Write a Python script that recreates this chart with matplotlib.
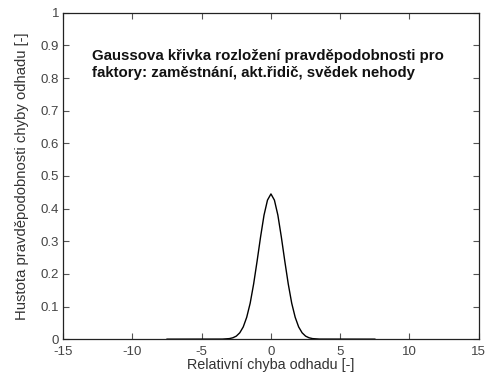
import matplotlib
matplotlib.use("Agg")
import matplotlib.pyplot as plt

plt.rcParams['font.family'] = ['Liberation Sans', 'DejaVu Sans']

# hustota chyby odhadu (symetricka krivka kolem nuly)
x_vals = [-7.5, -3.5, -3.0, -2.75, -2.5, -2.25, -2.0, -1.75, -1.5, -1.25, -1.0, -0.75, -0.5, -0.25, 0.0,
          0.25, 0.5, 0.75, 1.0, 1.25, 1.5, 1.75, 2.0, 2.25, 2.5, 2.75, 3.0, 3.5, 7.5]
y_vals = [0.0, 0.0002, 0.0017, 0.0042, 0.0093, 0.0195, 0.0375, 0.067, 0.110, 0.169, 0.239, 0.313, 0.380, 0.426, 0.445,
          0.426, 0.380, 0.313, 0.239, 0.169, 0.110, 0.067, 0.0375, 0.0195, 0.0093, 0.0042, 0.0017, 0.0002, 0.0]

x_ticks = [-15, -10, -5, 0, 5, 10, 15]
y_ticks = [0, 0.1, 0.2, 0.3, 0.4, 0.5, 0.6, 0.7, 0.8, 0.9, 1]
y_tick_labels = ['0', '0.1', '0.2', '0.3', '0.4', '0.5', '0.6', '0.7', '0.8', '0.9', '1']

popis = "Gaussova křivka rozložení pravděpodobnosti pro\nfaktory: zaměstnání, akt.řidič, svědek nehody"

fig = plt.figure(figsize=(4.86, 3.76), dpi=100)
ax = fig.add_axes([0.130, 0.098, 0.855, 0.868])

ax.plot(x_vals, y_vals, color='black', linewidth=1.0)

ax.set_xlim(-15, 15)
ax.set_ylim(0, 1)
ax.set_xticks(x_ticks)
ax.set_yticks(y_ticks)
ax.set_xticklabels([str(t) for t in x_ticks])
ax.set_yticklabels(y_tick_labels)
ax.tick_params(direction='in', top=True, right=True, length=4, labelsize=9.5,
               color='#555555', labelcolor='#444444', pad=3)
ax.tick_params(axis='x', pad=5)
for s in ax.spines.values():
    s.set_color('#222222')
    s.set_linewidth(0.9)

ax.set_xlabel('Relativní chyba odhadu [-]', fontsize=10.4, color='#333333', labelpad=0)
ax.set_ylabel('Hustota pravděpodobnosti chyby odhadu [-]', fontsize=10.7, color='#333333', labelpad=8)

ax.text(-12.9, 0.888, popis, fontsize=10.8, fontweight='bold', va='top', ha='left',
        linespacing=1.2, color='#111111')

fig.savefig('out.png', dpi=100)
